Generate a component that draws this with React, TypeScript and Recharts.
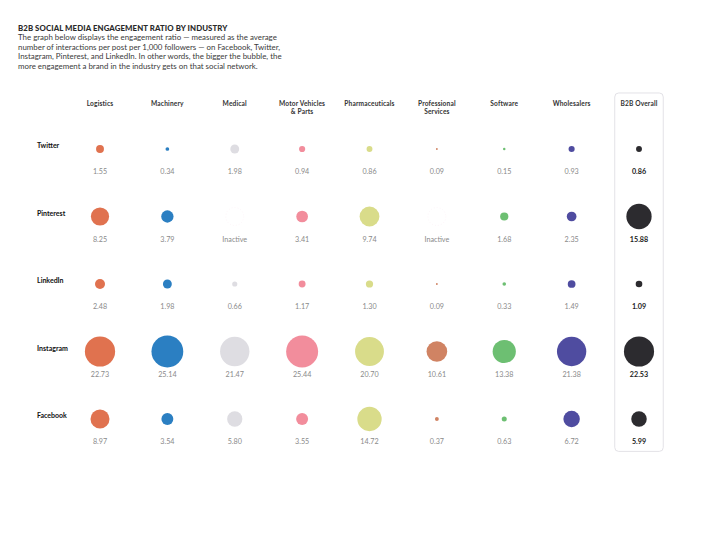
import React from 'react';
import { ScatterChart, Scatter, XAxis, YAxis, ZAxis, ReferenceArea } from 'recharts';

const industries = [
  'Logistics',
  'Machinery',
  'Medical',
  'Motor Vehicles\n& Parts',
  'Pharmaceuticals',
  'Professional\nServices',
  'Software',
  'Wholesalers',
  'B2B Overall',
];
const platforms = ['Twitter', 'Pinterest', 'LinkedIn', 'Instagram', 'Facebook'];

const twitter = [1.55, 0.34, 1.98, 0.94, 0.86, 0.09, 0.15, 0.93, 0.86];
const pinterest = [8.25, 3.79, null, 3.41, 9.74, null, 1.68, 2.35, 15.88];
const linkedin = [2.48, 1.98, 0.66, 1.17, 1.3, 0.09, 0.33, 1.49, 1.09];
const instagram = [22.73, 25.14, 21.47, 25.44, 20.7, 10.61, 13.38, 21.38, 22.53];
const facebook = [8.97, 3.54, 5.8, 3.55, 14.72, 0.37, 0.63, 6.72, 5.99];

const COLORS = ['#e0724f', '#2b7fc2', '#dedde2', '#f28d9c', '#d9dc8a', '#d08363', '#6dbf72', '#4f4ca0', '#2c2b2f'];

const rows = [twitter, pinterest, linkedin, instagram, facebook];
const data = rows.flatMap((vals, r) =>
  vals.map((v, c) => ({ col: c, row: r, value: v === null ? 0 : v, inactive: v === null }))
);

const FONT = 'Lato, "Open Sans", sans-serif';

const Bubble = (props: any) => {
  const { cx, cy, size, payload } = props;
  const r = Math.sqrt(Math.max(size || 0, 0) / Math.PI);
  const overall = payload.col === 8;
  const label = payload.inactive ? 'Inactive' : payload.value.toFixed(2);
  return (
    <g>
      {payload.inactive ? (
        <circle cx={cx} cy={cy} r={9} fill="#ffffff" stroke="#fbeff5" strokeWidth={0.6} strokeDasharray="1 2" />
      ) : (
        <circle cx={cx} cy={cy} r={r} fill={COLORS[payload.col]} />
      )}
      <text
        x={cx}
        y={cy + 25}
        textAnchor="middle"
        fontSize={7.2}
        fontFamily={FONT}
        fontWeight={overall ? 700 : 400}
        fill={overall ? '#222' : '#8a8a8a'}
      >
        {label}
      </text>
    </g>
  );
};

const HeaderTick = (props: any) => {
  const { x, payload } = props;
  const lines = String(industries[payload.value] || '').split('\n');
  return (
    <text x={x} y={106} textAnchor="middle" fontSize={6.6} fontWeight={700} fontFamily={FONT} fill="#333" letterSpacing={0.15}>
      {lines.map((l, i) => (
        <tspan key={i} x={x} dy={i === 0 ? 0 : 8}>
          {l}
        </tspan>
      ))}
    </text>
  );
};

const RowTick = (props: any) => {
  const { y, payload } = props;
  return (
    <text x={37} y={y} dy={-1} textAnchor="start" fontSize={7} fontWeight={700} fontFamily={FONT} fill="#111">
      {platforms[payload.value]}
    </text>
  );
};

export default function App() {
  return (
    <div style={{ position: 'absolute', left: 0, top: 0, width: 720, height: 544, background: '#fff', fontFamily: FONT }}>
      <div style={{ position: 'absolute', left: 18, top: 23, fontSize: 7.8, fontWeight: 900, color: '#2a2a2a', letterSpacing: 0.1 }}>
        B2B SOCIAL MEDIA ENGAGEMENT RATIO BY INDUSTRY
      </div>
      <div style={{ position: 'absolute', left: 18, top: 33, fontSize: 7.9, lineHeight: '9.5px', color: '#3a3a3a' }}>
        The graph below displays the engagement ratio — measured as the average
        <br />
        number of interactions per post per 1,000 followers — on Facebook, Twitter,
        <br />
        Instagram, Pinterest, and LinkedIn. In other words, the bigger the bubble, the
        <br />
        more engagement a brand in the industry gets on that social network.
      </div>
      <div style={{ position: 'absolute', left: 0, top: 0 }}>
        <ScatterChart width={720} height={544} margin={{ top: 119, right: 81, bottom: 125, left: 0 }}>
          <XAxis
            dataKey="col"
            type="number"
            domain={[0, 8]}
            ticks={[0, 1, 2, 3, 4, 5, 6, 7, 8]}
            interval={0}
            orientation="top"
            axisLine={false}
            tickLine={false}
            height={30}
            tick={<HeaderTick />}
          />
          <YAxis
            dataKey="row"
            type="number"
            domain={[0, 4]}
            ticks={[0, 1, 2, 3, 4]}
            interval={0}
            reversed
            axisLine={false}
            tickLine={false}
            width={100}
            tick={<RowTick />}
          />
          <ZAxis dataKey="value" type="number" domain={[0, 25.14]} range={[0, 804]} />
          <ReferenceArea
            x1={7.64}
            x2={8.36}
            y1={-0.83}
            y2={4.48}
            ifOverflow="visible"
            fill="#ffffff"
            fillOpacity={1}
            stroke="#e3e2e7"
            strokeWidth={1}
            radius={4}
          />
          <Scatter data={data} shape={<Bubble />} isAnimationActive={false} />
        </ScatterChart>
      </div>
    </div>
  );
}
